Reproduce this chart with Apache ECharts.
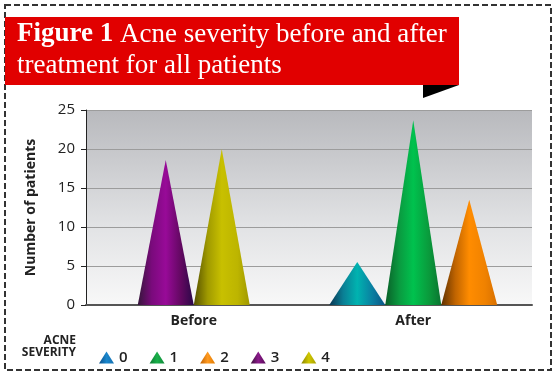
<!DOCTYPE html>
<html>
<head>
<meta charset="utf-8">
<script src="https://cdn.jsdelivr.net/npm/echarts@6/dist/echarts.min.js"></script>
<style>html,body{margin:0;padding:0;background:#fff}#c{width:557px;height:374px}</style>
</head>
<body>
<div id="c"></div>
<script>
// ---- data ----
const categories = ['Before', 'After'];
const severityNames = ['0', '1', '2', '3', '4'];
const severity0 = [0, 5.5];
const severity1 = [0, 23.7];
const severity2 = [0, 13.5];
const severity3 = [18.6, 0];
const severity4 = [20, 0];
const yTicks = [0, 5, 10, 15, 20, 25];

const seriesValues = [severity0, severity1, severity2, severity3, severity4];

const G = echarts.graphic.LinearGradient;
const coneColors = [
  ['#0a3552', '#0a7f95', '#00b3b0', '#0a7da0', '#0a5585'],
  ['#0a5f28', '#0a9a40', '#00c24e', '#0a9a3c', '#0a7430'],
  ['#5e3000', '#c06400', '#ff8c00', '#f08200', '#d87000'],
  ['#35163a', '#7a0a7c', '#980a98', '#60085f', '#2a0848'],
  ['#545000', '#a09a00', '#c8c000', '#bdb500', '#a09800']
];
const legendColors = [
  ['#0a4f8a', '#1a86cc', '#1470b0'],
  ['#0a7a30', '#1ab04a', '#108a3a'],
  ['#c06000', '#ff9a20', '#e07a00'],
  ['#3a103a', '#8a1a8a', '#5a0a5a'],
  ['#8a8400', '#d0c800', '#a8a000']
];
function cone(c) {
  return new G(0, 0, 1, 0, [
    {offset: 0, color: c[0]}, {offset: 0.25, color: c[1]}, {offset: 0.5, color: c[2]},
    {offset: 0.78, color: c[3]}, {offset: 1, color: c[4]}
  ]);
}
function legGrad(c) {
  return new G(0, 0, 1, 0, [{offset: 0, color: c[0]}, {offset: 0.5, color: c[1]}, {offset: 1, color: c[2]}]);
}

// position of each non-zero bar within its category group (centred)
function offsetFor(si, ci) {
  const present = seriesValues.map((s, k) => s[ci] !== 0 ? k : -1).filter(k => k >= 0);
  const pos = present.indexOf(si);
  return (pos - (present.length - 1) / 2) * 100;
}

const series = seriesValues.map((vals, si) => ({
  name: severityNames[si],
  type: 'pictorialBar',
  xAxisIndex: 1,
  yAxisIndex: 1,
  symbol: 'triangle',
  barWidth: 56,
  barGap: '-100%',
  itemStyle: {color: cone(coneColors[si])},
  data: vals.map((v, ci) => v === 0 ? '-' : {value: v, symbolOffset: [offsetFor(si, ci) + '%', 0]})
}));

const chart = echarts.init(document.getElementById('c'), null, {renderer: 'canvas'});
chart.setOption({
  animation: false,
  backgroundColor: '#ffffff',
  title: {
    text: '{b|Figure 1} Acne severity before and after\ntreatment for all patients',
    left: 17, top: 19, padding: 0,
    textStyle: {
      color: '#ffffff', fontFamily: 'Liberation Serif', fontSize: 27, fontWeight: 'normal', lineHeight: 31,
      rich: {b: {color: '#ffffff', fontFamily: 'Liberation Serif', fontSize: 27, fontWeight: 'bold', lineHeight: 31}}
    },
    z: 10
  },
  graphic: [
    {type: 'rect', z: -1, shape: {x: 5, y: 5, width: 546, height: 365},
     style: {fill: 'none', stroke: '#333', lineWidth: 2, lineDash: [6, 3]}},
    {type: 'rect', z: 0, shape: {x: 5, y: 17, width: 454, height: 68}, style: {fill: '#e10000'}},
    {type: 'polygon', z: 0, shape: {points: [[423, 85], [459, 85], [423, 98]]}, style: {fill: '#000'}},
    {type: 'text', x: 76, y: 335, z: 5,
     style: {text: 'ACNE\nSEVERITY', align: 'right', fill: '#222', fontFamily: 'Open Sans',
             fontWeight: 'bold', fontSize: 12, lineHeight: 12}}
  ],
  legend: {
    left: 94, top: 345,
    icon: 'triangle', itemWidth: 15, itemHeight: 12, itemGap: 22,
    textStyle: {color: '#222', fontFamily: 'Open Sans', fontSize: 15, fontWeight: 600, padding: [0, 0, 0, 0]},
    data: severityNames.map((n, i) => ({name: n, itemStyle: {color: legGrad(legendColors[i])}}))
  },
  grid: [
    {left: 86, right: 25, top: 110, bottom: 69, show: true, borderWidth: 0,
     backgroundColor: new G(0, 0, 0, 1, [{offset: 0, color: '#b8b9bd'}, {offset: 0.6, color: '#e2e3e5'}, {offset: 1, color: '#f8f8f8'}])},
    {left: 84, right: 34, top: 110, bottom: 69}
  ],
  xAxis: [
    {type: 'category', gridIndex: 0, data: categories,
     axisLine: {show: true, lineStyle: {color: '#555', width: 2}},
     axisTick: {show: false}, axisLabel: {show: false}, splitLine: {show: false}},
    {type: 'category', gridIndex: 1, data: categories,
     axisLine: {show: false}, axisTick: {show: false},
     axisLabel: {color: '#222', fontFamily: 'Open Sans', fontWeight: 'bold', fontSize: 14, margin: 9}}
  ],
  yAxis: [
    {type: 'value', gridIndex: 0, min: yTicks[0], max: yTicks[yTicks.length - 1], interval: 5,
     name: 'Number of patients', nameLocation: 'middle', nameGap: 48, nameRotate: 90,
     nameTextStyle: {color: '#222', fontFamily: 'Open Sans', fontWeight: 'bold', fontSize: 14},
     axisLine: {show: true, lineStyle: {color: '#222', width: 1}},
     axisTick: {show: true, length: 5, lineStyle: {color: '#222'}},
     axisLabel: {color: '#222', fontFamily: 'Open Sans', fontSize: 15, margin: 11},
     splitLine: {show: true, lineStyle: {color: '#9c9c9c', width: 1}}},
    {type: 'value', gridIndex: 1, min: 0, max: 25, interval: 5, show: false, splitLine: {show: false}}
  ],
  series: series
});
</script>
</body>
</html>
